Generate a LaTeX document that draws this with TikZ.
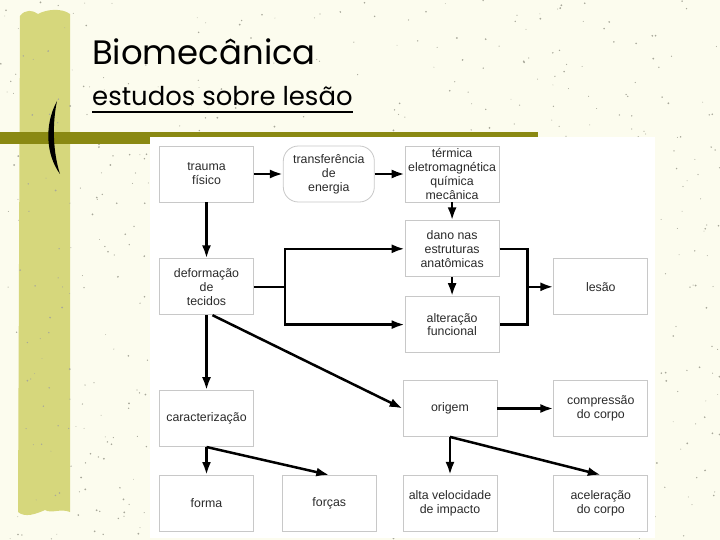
\documentclass[tikz,border=0pt]{standalone}
\usepackage{fontspec}
\setmainfont{Liberation Sans}
\newfontfamily\titlefont{Poppins}
\usetikzlibrary{arrows.meta, positioning, calc}

\definecolor{paper}{HTML}{FCFCEE}
\definecolor{barcol}{HTML}{D6D77C}
\definecolor{olivebar}{HTML}{8A8912}
\definecolor{speck}{HTML}{A8A89A}
\definecolor{boxline}{HTML}{C8C8C8}
\definecolor{boxtext}{HTML}{2A2A2A}

\begin{document}
\begin{tikzpicture}[
    x=1bp, y=-1bp,
    box/.style={draw=boxline, fill=white, line width=0.8bp, minimum width=94bp, minimum height=56bp, inner sep=2bp, align=center, text=boxtext, font=\fontsize{12.4}{14}\selectfont},
    roundbox/.style={box, minimum width=91bp, rounded corners=15bp},
    link/.style={line width=2.5bp, black},
    headline/.style={anchor=base west, inner sep=0pt, font=\titlefont\fontsize{#1}{#1}\selectfont},
    >={Latex[length=13bp, width=9bp]}
]
    % slide background
    \useasboundingbox (0,0) rectangle (720,540);
    \fill[paper] (0,0) rectangle (720,540);
    \fill[barcol] (20,16) .. controls (25,9) and (33,10) .. (38,14) .. controls (47,9) and (62,8) .. (70,14)
        -- (70,512) .. controls (60,508) and (52,514) .. (45,510) .. controls (36,514) and (25,518) .. (18,512) -- cycle;
    \pgfmathsetseed{17}
    \foreach \i in {1,...,700}
        \fill[speck] ({rnd*720},{rnd*540}) circle ({0.4bp+0.6bp*rnd});
    \fill[olivebar] (0,132) rectangle (538,144);
    \fill[white] (150,137) rectangle (655,538);
    \fill[black] (57,101) .. controls (44,125) and (46,155) .. (60,174) .. controls (53,152) and (52,125) .. (57,101) -- cycle;

    % title
    \node[headline=34] (title) at (92,65) {Biomecânica};
    \node[headline=26] (subtitle) at (92,106) {estudos sobre lesão};
    \draw[line width=2bp] ([yshift=-6bp]subtitle.base west) -- ([yshift=-6bp]subtitle.base east);

    % diagram
    \node[box] (trauma) at (206.5,174) {trauma\\físico};
    \node[roundbox, right=29bp of trauma] (transf) {transferência\\de\\energia};
    \node[box, right=30bp of transf] (termica) {térmica\\eletromagnética\\química\\mecânica};
    \node[box, below=18bp of termica] (dano) {dano nas\\estruturas\\anatômicas};
    \node[box, below=19bp of dano] (alter) {alteração\\funcional};
    \node[box, below=56bp of trauma] (deform) {deformação\\de\\tecidos};
    \node[box, below=75bp of deform] (caract) {caracterização};
    \node[box, below=28bp of caract] (forma) {forma};
    \node[box, right=28bp of forma] (forcas) {forças};
    \node[box] (origem) at (450,408.5) {origem};
    \node[box, right=56bp of origem] (compr) {compressão\\do corpo};
    \node[box, below=38bp of origem] (alta) {alta velocidade\\de impacto};
    \node[box, right=56bp of alta] (acel) {aceleração\\do corpo};
    \node[box] (lesao) at (compr |- deform) {lesão};

    \coordinate (split) at ([xshift=31bp]deform.east);
    \coordinate (merge) at ([xshift=28bp]dano.east |- lesao.west);

    \draw[link, ->] (trauma) -- (transf);
    \draw[link, ->] (transf) -- (termica);
    \draw[link, ->] (termica) -- (dano);
    \draw[link, ->] (dano) -- (alter);
    \draw[link, ->] (trauma) -- (deform);
    \draw[link] (deform.east) -- (split);
    \draw[link, <->] (dano.west) -| (split) |- (alter.west);
    \draw[link] (dano.east) -| (merge) |- (alter.east);
    \draw[link, ->] (merge) -- (lesao.west);
    \draw[link, ->] (deform) -- (caract);
    \draw[link, ->] ([xshift=6bp]deform.south) -- (origem.west);
    \draw[link, ->] (caract.south) -- (forma.north);
    \draw[link, ->] (caract.south) -- (forcas.north);
    \draw[link, ->] (origem) -- (compr);
    \draw[link, ->] (origem.south) -- (alta.north);
    \draw[link, ->] (origem.south) -- (acel.north);
\end{tikzpicture}
\end{document}
